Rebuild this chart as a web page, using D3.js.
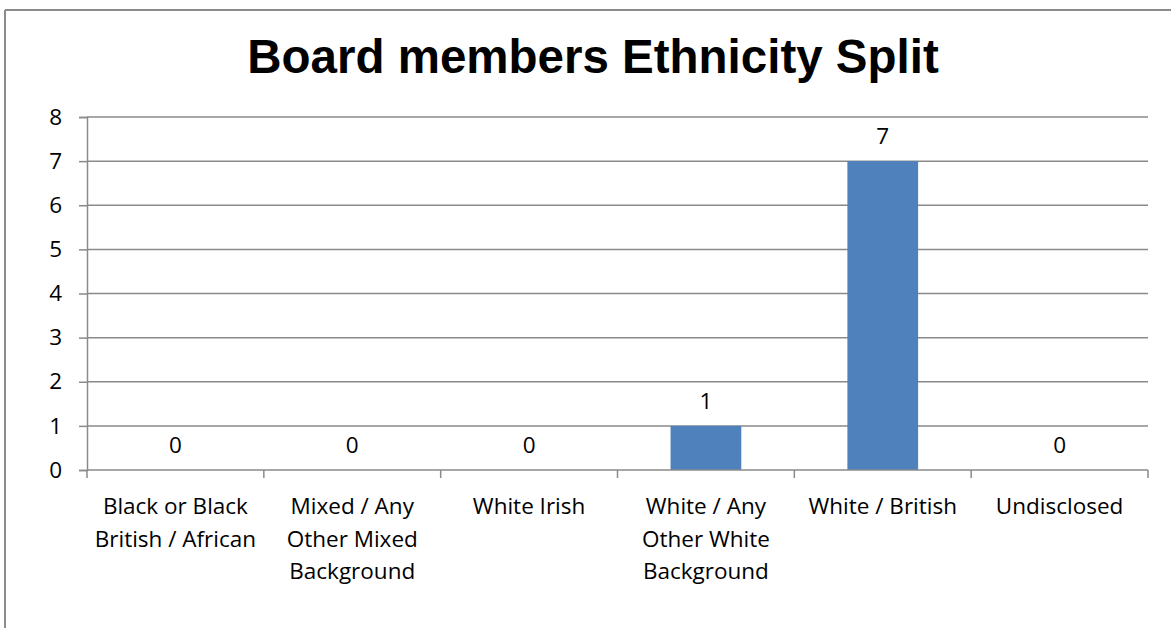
<!DOCTYPE html>
<html>
<head>
<meta charset="utf-8">
<script src="https://cdn.jsdelivr.net/npm/d3@7"></script>
<style>
  html, body { margin: 0; padding: 0; background: #fff; }
  svg { display: block; }
</style>
</head>
<body>
<svg id="chart" width="1171" height="628"></svg>
<script>
// Board members by ethnicity
const categories = [
  "Black or Black British / African",
  "Mixed / Any Other Mixed Background",
  "White Irish",
  "White / Any Other White Background",
  "White / British",
  "Undisclosed"
];
const categoryLines = [
  ["Black or Black", "British / African"],
  ["Mixed / Any", "Other Mixed", "Background"],
  ["White Irish"],
  ["White / Any", "Other White", "Background"],
  ["White / British"],
  ["Undisclosed"]
];
const counts = [0, 0, 0, 1, 7, 0];
const yTicks = [0, 1, 2, 3, 4, 5, 6, 7, 8];
const title = "Board members Ethnicity Split";

const W = 1171, H = 628;
const plot = { left: 87, right: 1148, top: 117, bottom: 470 };
const gridColor = "#8a8a8a";
const barColor = "#4F81BD";
const textFont = "'Open Sans', 'Noto Sans', sans-serif";
const textSize = 22.5;

const svg = d3.select("#chart");

// chart frame (top and left edges visible)
svg.append("line").attr("x1", 5).attr("x2", W).attr("y1", 10).attr("y2", 10)
  .attr("stroke", "#8c8c8c").attr("stroke-width", 2);
svg.append("line").attr("x1", 5).attr("x2", 5).attr("y1", 10).attr("y2", H)
  .attr("stroke", "#8c8c8c").attr("stroke-width", 2);

// title
svg.append("text")
  .attr("x", 593).attr("y", 73)
  .attr("text-anchor", "middle")
  .attr("font-family", "'Liberation Sans', Arial, sans-serif")
  .attr("font-weight", "bold")
  .attr("font-size", 47.5)
  .attr("fill", "#000")
  .text(title);

const y = d3.scaleLinear().domain([0, 8]).range([plot.bottom, plot.top]);
const x = d3.scaleBand().domain(categories).range([plot.left, plot.right])
  .paddingInner(0.6).paddingOuter(0.3);
const slot = d3.scaleBand().domain(categories).range([plot.left, plot.right]).padding(0);

// horizontal gridlines
svg.append("g").selectAll("line").data(yTicks.filter(t => t > 0)).join("line")
  .attr("x1", plot.left).attr("x2", plot.right)
  .attr("y1", d => y(d)).attr("y2", d => y(d))
  .attr("stroke", gridColor).attr("stroke-width", 1.5);

// y axis
const yAxis = svg.append("g")
  .attr("transform", `translate(${plot.left},0)`)
  .call(d3.axisLeft(y).tickValues(yTicks).tickFormat(d3.format("d")).tickSize(8).tickPadding(17));
yAxis.select(".domain").attr("stroke", gridColor).attr("stroke-width", 1.5);
yAxis.selectAll(".tick line").attr("stroke", gridColor).attr("stroke-width", 1.5);
yAxis.selectAll(".tick text")
  .attr("font-family", textFont).attr("font-size", textSize).attr("fill", "#000");

// bars
svg.append("g").selectAll("rect").data(categories).join("rect")
  .attr("x", d => x(d))
  .attr("width", x.bandwidth())
  .attr("y", (d, i) => y(counts[i]))
  .attr("height", (d, i) => y(0) - y(counts[i]))
  .attr("fill", barColor);

// x axis baseline and category boundary ticks
svg.append("line")
  .attr("x1", plot.left).attr("x2", plot.right)
  .attr("y1", y(0)).attr("y2", y(0))
  .attr("stroke", gridColor).attr("stroke-width", 1.5);
const boundaries = categories.map(c => slot(c)).concat([plot.right]);
svg.append("g").selectAll("line").data(boundaries).join("line")
  .attr("x1", d => d).attr("x2", d => d)
  .attr("y1", y(0)).attr("y2", y(0) + 8)
  .attr("stroke", gridColor).attr("stroke-width", 1.5);

// value labels
svg.append("g").selectAll("text").data(categories).join("text")
  .attr("x", d => x(d) + x.bandwidth() / 2)
  .attr("y", (d, i) => y(counts[i]) - 17)
  .attr("text-anchor", "middle")
  .attr("font-family", textFont).attr("font-size", textSize).attr("fill", "#000")
  .text((d, i) => counts[i]);

// category labels
const catG = svg.append("g").selectAll("text").data(categories).join("text")
  .attr("x", d => slot(d) + slot.bandwidth() / 2)
  .attr("y", 514)
  .attr("text-anchor", "middle")
  .attr("font-family", textFont).attr("font-size", textSize).attr("fill", "#000");
catG.selectAll("tspan").data((d, i) => categoryLines[i]).join("tspan")
  .attr("x", function () { return d3.select(this.parentNode).attr("x"); })
  .attr("dy", (d, j) => j === 0 ? 0 : 32.5)
  .text(d => d);
</script>
</body>
</html>
